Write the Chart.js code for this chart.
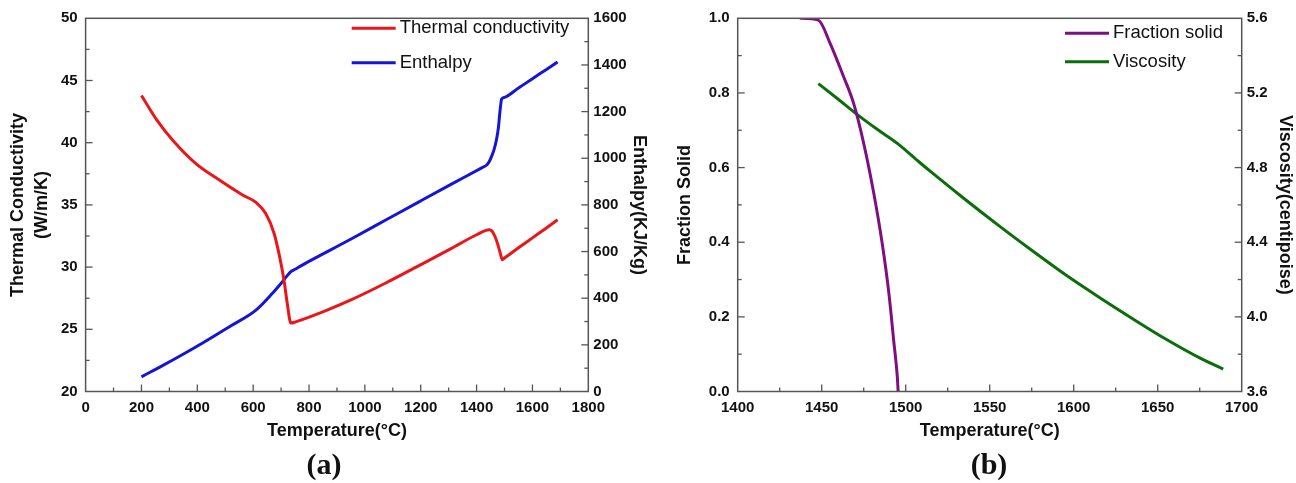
<!DOCTYPE html>
<html>
<head>
<meta charset="utf-8">
<script src="https://cdn.jsdelivr.net/npm/chart.js@4.4.0/dist/chart.umd.min.js"></script>
<style>
  body { margin: 0; background: #fff; }
  #wrap { position: relative; width: 1296px; height: 483px; overflow: hidden; background: #fff; }
  canvas { position: absolute; top: 0; }
  #chartA { left: 0; }
  #chartB { left: 650px; }
  .panel { position: absolute; top: 447px; line-height: 36px; font: bold 30px "Liberation Serif", "Times New Roman", serif; color: #111; transform: translateX(-50%); }
</style>
</head>
<body>
<div id="wrap">
  <canvas id="chartA" width="650" height="483"></canvas>
  <canvas id="chartB" width="646" height="483"></canvas>
  <div class="panel" style="left:324px">(a)</div>
  <div class="panel" style="left:989px">(b)</div>
</div>
<script>
// panel (a): thermal conductivity and enthalpy vs temperature
const condTemp  = [200, 256, 312, 396, 479, 562, 610, 645, 675, 695, 710, 722, 735, 752, 871, 954, 1073, 1192, 1310, 1400, 1445, 1455, 1465, 1475, 1485, 1492, 1500, 1550, 1600, 1650, 1690];
const condValue = [43.8, 41.8, 40.2, 38.3, 37.0, 35.8, 35.2, 34.3, 32.7, 30.8, 29.0, 27.1, 25.5, 25.6, 26.6, 27.4, 28.7, 30.1, 31.5, 32.6, 33.0, 32.9, 32.5, 31.9, 31.1, 30.6, 30.73, 31.55, 32.35, 33.15, 33.8];
const enthTemp  = [200, 277, 396, 515, 610, 669, 705, 734, 750, 776, 871, 954, 1073, 1192, 1310, 1420, 1435, 1445, 1453, 1462, 1471, 1478, 1483, 1487, 1489, 1500, 1550, 1600, 1650, 1690];
const enthValue = [63, 112, 192, 278, 349, 421, 471, 513, 524, 542, 603, 656, 734, 812, 889, 960, 970, 985, 1006, 1035, 1078, 1130, 1192, 1235, 1252, 1261, 1301, 1341, 1381, 1413];

// panel (b): fraction solid and viscosity vs temperature
const solidTemp  = [1437, 1448, 1455, 1463, 1469, 1475, 1481, 1486, 1490, 1493, 1495, 1495.5];
const solidValue = [1.0, 0.995, 0.933, 0.844, 0.772, 0.665, 0.531, 0.397, 0.263, 0.130, 0.04, 0];
const viscTemp  = [1448, 1460, 1471, 1483, 1495, 1508, 1516, 1536, 1556, 1576, 1596, 1616, 1636, 1655, 1675, 1689];
const viscValue = [5.25, 5.165, 5.085, 5.005, 4.93, 4.83, 4.77, 4.625, 4.485, 4.35, 4.22, 4.10, 3.985, 3.88, 3.78, 3.72];

const pts = (xs, ys) => xs.map((x, i) => ({ x: x, y: ys[i] }));

const sans = '"Liberation Sans", Arial, sans-serif';
const ink = '#111';
const tickFont = { family: sans, size: 15, weight: 'bold' };
const titleFont = { family: sans, size: 18, weight: 'bold' };
const plain = (v) => String(v);
const oneDec = (v) => v.toFixed(1);

const fixSize = (size) => (scale) => {
    if (scale.isHorizontal()) scale.height = size;
    else scale.width = size;
};

// box frame, inward major/minor ticks and the in-plot legend
const frameTicks = {
    id: 'frameTicks',
    afterDatasetsDraw(chart, args, opts) {
        const ctx = chart.ctx;
        const a = chart.chartArea;
        ctx.save();
        ctx.strokeStyle = '#555';
        ctx.lineWidth = 1.5;
        ctx.strokeRect(a.left, a.top, a.right - a.left, a.bottom - a.top);
        ctx.lineWidth = 1.3;
        Object.keys(opts.minor).forEach((id) => {
            const scale = chart.scales[id];
            const step = opts.minor[id];
            const n = Math.round((scale.max - scale.min) / step);
            for (let k = 1; k < n; k++) {
                const v = scale.min + k * step;
                const len = k % 2 === 0 ? 7 : 4;
                const p = scale.getPixelForValue(v);
                ctx.beginPath();
                if (scale.position === 'bottom') { ctx.moveTo(p, a.bottom); ctx.lineTo(p, a.bottom - len); }
                else if (scale.position === 'left') { ctx.moveTo(a.left, p); ctx.lineTo(a.left + len, p); }
                else { ctx.moveTo(a.right, p); ctx.lineTo(a.right - len, p); }
                ctx.stroke();
            }
        });
        ctx.font = '18.5px ' + sans;
        ctx.textBaseline = 'middle';
        ctx.fillStyle = ink;
        chart.data.datasets.forEach((ds, i) => {
            const y = opts.legend.y[i];
            ctx.strokeStyle = ds.borderColor;
            ctx.lineWidth = 3;
            ctx.beginPath();
            ctx.moveTo(opts.legend.x, y);
            ctx.lineTo(opts.legend.x + 44, y);
            ctx.stroke();
            ctx.fillText(ds.label, opts.legend.x + 48, y);
        });
        ctx.restore();
    }
};

function line(label, data, color, axis) {
    return {
        label: label,
        data: data,
        borderColor: color,
        borderWidth: 3,
        borderJoinStyle: 'round',
        pointRadius: 0,
        cubicInterpolationMode: 'monotone',
        yAxisID: axis
    };
}

function axis(opts) {
    return Object.assign({
        type: 'linear',
        grid: { display: false, drawTicks: false },
        border: { display: false }
    }, opts);
}

new Chart(document.getElementById('chartA'), {
    type: 'line',
    plugins: [frameTicks],
    data: {
        datasets: [
            line('Thermal conductivity', pts(condTemp, condValue), '#e8171b', 'y'),
            line('Enthalpy', pts(enthTemp, enthValue), '#1515d6', 'y2')
        ]
    },
    options: {
        responsive: false,
        animation: false,
        events: [],
        layout: { padding: { top: 18.3, bottom: 41.5, left: 0, right: 0 } },
        scales: {
            x: axis({
                position: 'bottom', min: 0, max: 1800,
                ticks: { stepSize: 200, font: tickFont, color: ink, padding: 7, callback: plain },
                title: { display: true, text: 'Temperature(°C)', font: titleFont, color: ink, padding: 0 },
                afterFit: fixSize(50)
            }),
            y: axis({
                position: 'left', min: 20, max: 50,
                ticks: { stepSize: 5, font: tickFont, color: ink, padding: 8, callback: plain },
                title: { display: true, text: ['Thermal Conductivity', '(W/m/K)'], font: { family: sans, size: 18, weight: 'bold', lineHeight: 1.35 }, color: ink, padding: { top: 5.9 } },
                afterFit: fixSize(85.6)
            }),
            y2: axis({
                position: 'right', min: 0, max: 1600,
                ticks: { stepSize: 200, font: tickFont, color: ink, padding: 5, callback: plain },
                title: { display: true, text: 'Enthalpy(KJ/Kg)', font: titleFont, color: ink, padding: { top: 0 } },
                afterFit: fixSize(61.7)
            })
        },
        plugins: {
            legend: { display: false },
            tooltip: { enabled: false },
            frameTicks: { minor: { x: 100, y: 2.5, y2: 100 }, legend: { x: 351.7, y: [28.3, 62.7] } }
        }
    }
});

new Chart(document.getElementById('chartB'), {
    type: 'line',
    plugins: [frameTicks],
    data: {
        datasets: [
            line('Fraction solid', pts(solidTemp, solidValue), '#7f0f80', 'y'),
            line('Viscosity', pts(viscTemp, viscValue), '#0b6e0b', 'y2')
        ]
    },
    options: {
        responsive: false,
        animation: false,
        events: [],
        layout: { padding: { top: 18.3, bottom: 41.5, left: 0, right: 0 } },
        scales: {
            x: axis({
                position: 'bottom', min: 1400, max: 1700,
                ticks: { stepSize: 50, font: tickFont, color: ink, padding: 7, callback: plain },
                title: { display: true, text: 'Temperature(°C)', font: titleFont, color: ink, padding: 0 },
                afterFit: fixSize(50)
            }),
            y: axis({
                position: 'left', min: 0, max: 1,
                ticks: { stepSize: 0.2, font: tickFont, color: ink, padding: 8, callback: oneDec },
                title: { display: true, text: 'Fraction Solid', font: titleFont, color: ink, padding: { top: 24.2 } },
                afterFit: fixSize(87.7)
            }),
            y2: axis({
                position: 'right', min: 3.6, max: 5.6,
                ticks: { stepSize: 0.4, font: tickFont, color: ink, padding: 5, callback: oneDec },
                title: { display: true, text: 'Viscosity(centipoise)', font: titleFont, color: ink, padding: { top: 0.2 } },
                afterFit: fixSize(54.3)
            })
        },
        plugins: {
            legend: { display: false },
            tooltip: { enabled: false },
            frameTicks: { minor: { x: 25, y: 0.1, y2: 0.2 }, legend: { x: 415, y: [33.3, 61.7] } }
        }
    }
});
</script>
</body>
</html>
